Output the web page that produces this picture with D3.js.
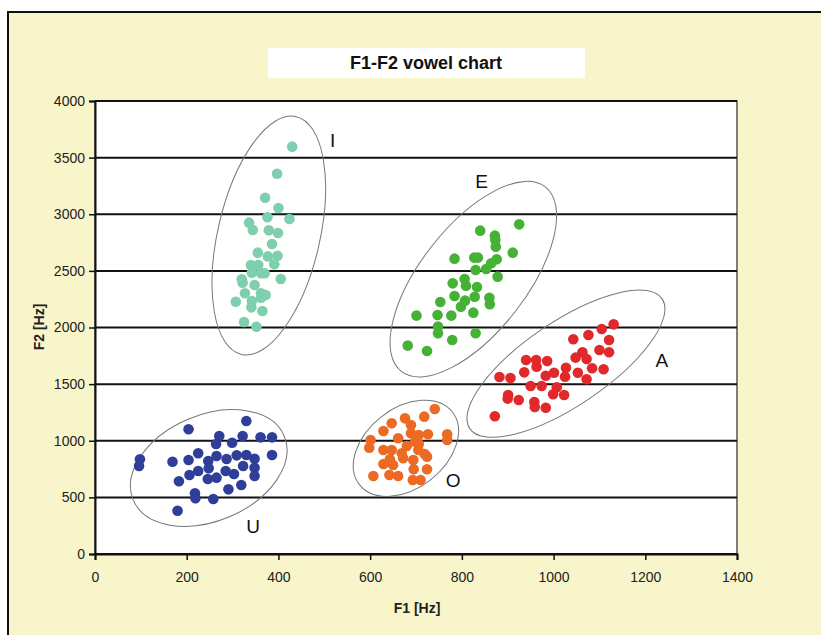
<!DOCTYPE html>
<html lang="en">
<head>
  <meta charset="UTF-8">
  <title>F1-F2 vowel chart</title>
  <style>
    body { margin: 0; background: #fff; }
    .tick text { font-family: "Liberation Sans Narrow", "Arial Narrow", "Liberation Sans", sans-serif; font-size: 14px; fill: #222; }
    .axis-title { font-family: "Liberation Sans", Arial, sans-serif; font-weight: bold; font-size: 14px; fill: #222; }
    .vowel-label { font-family: "Liberation Sans", Arial, sans-serif; font-size: 19px; fill: #111; }
  </style>
</head>
<body>
  <script src="https://d3js.org/d3.v7.min.js"></script>
  <script>
    // vowel clusters: [F1, F2] in Hz
    const vowels = ["I", "E", "A", "O", "U"];
    const pointsI = [[430,3597],[397,3358],[371,3146],[400,3055],[376,2973],[424,2958],[336,2926],[344,2861],[379,2858],[399,2834],[386,2737],[355,2661],[377,2628],[398,2634],[391,2558],[340,2552],[356,2552],[342,2484],[362,2479],[370,2479],[320,2426],[322,2396],[405,2428],[348,2375],[327,2302],[362,2302],[372,2287],[362,2263],[307,2228],[342,2234],[341,2178],[365,2146],[325,2049],[352,2007]];
    const pointsE = [[925,2911],[840,2855],[872,2811],[873,2773],[874,2714],[911,2661],[784,2608],[827,2617],[835,2617],[876,2602],[864,2567],[853,2517],[830,2508],[878,2449],[806,2428],[780,2390],[809,2369],[833,2358],[784,2278],[828,2272],[860,2263],[861,2205],[807,2237],[798,2184],[753,2225],[825,2131],[701,2105],[747,2111],[777,2105],[748,2008],[748,1949],[830,1949],[779,1890],[682,1840],[724,1793]];
    const pointsA = [[1131,2028],[1105,1987],[1076,1934],[1043,1896],[1121,1890],[1100,1801],[1121,1781],[1063,1781],[1048,1734],[1072,1722],[940,1713],[962,1713],[986,1704],[963,1654],[1027,1645],[1084,1640],[1109,1631],[936,1604],[1001,1601],[1053,1601],[1025,1566],[983,1574],[882,1563],[906,1554],[1072,1543],[950,1483],[974,1483],[1007,1472],[999,1410],[1023,1404],[901,1404],[900,1372],[924,1360],[958,1342],[959,1298],[983,1292],[872,1216]];
    const pointsO = [[741,1280],[718,1213],[676,1198],[647,1154],[689,1139],[629,1086],[689,1066],[706,1051],[726,1057],[661,1022],[768,1057],[768,1007],[601,1007],[598,939],[698,992],[706,971],[680,954],[629,918],[647,918],[705,918],[669,889],[719,883],[724,859],[643,836],[629,795],[672,845],[694,830],[650,786],[695,748],[724,748],[607,689],[642,698],[661,689],[693,653],[710,653]];
    const pointsU = [[330,1174],[204,1101],[271,1042],[322,1042],[361,1030],[386,1030],[264,971],[299,983],[225,889],[265,865],[309,871],[330,874],[386,874],[98,836],[96,777],[169,815],[204,830],[247,821],[287,839],[348,841],[248,757],[323,777],[348,762],[206,698],[225,733],[285,733],[303,706],[348,689],[246,662],[265,674],[183,642],[319,609],[291,571],[218,536],[219,492],[258,486],[180,382]];

    // cluster ellipse centres and label anchors (Hz)
    const ellipseF1 = [379, 825, 1027, 678, 248];
    const ellipseF2 = [2812, 2427, 1680, 933, 759];
    const labelF1 = [518, 843, 1236, 781, 345];
    const labelF2 = [3655, 3287, 1713, 647, 241];

    const xTicks = [0, 200, 400, 600, 800, 1000, 1200, 1400];
    const yTicks = [0, 500, 1000, 1500, 2000, 2500, 3000, 3500, 4000];

    // styling
    const colors = { I: "#7dcfae", E: "#45b236", A: "#e1282a", O: "#ec6a23", U: "#2f3e98" };
    // ellipse semi-axes (px) and rotation (deg)
    const ellipseShape = { I: [122, 51, -77], E: [117, 53, -52], A: [116, 42, -34], O: [59, 40, -38], U: [82, 53, -23] };

    const W = 821, H = 635;
    const margin = { left: 95, top: 101, right: 84, bottom: 81 };
    const pw = W - margin.left - margin.right;
    const ph = H - margin.top - margin.bottom;

    const svg = d3.select("body").append("svg")
      .attr("width", W)
      .attr("height", H);

    // outer chart area
    svg.append("rect")
      .attr("x", 8).attr("y", 12)
      .attr("width", W + 10).attr("height", H + 10)
      .attr("fill", "#f8f5cb")
      .attr("stroke", "#111")
      .attr("stroke-width", 2);

    // title box
    svg.append("rect")
      .attr("x", 268).attr("y", 48)
      .attr("width", 317).attr("height", 30)
      .attr("fill", "#fff");
    svg.append("text")
      .attr("x", 426).attr("y", 69)
      .attr("text-anchor", "middle")
      .attr("font-family", "'Liberation Sans Narrow', 'Arial Narrow', sans-serif")
      .attr("font-weight", "bold")
      .attr("font-size", 18)
      .attr("fill", "#111")
      .text("F1-F2 vowel chart");

    const x = d3.scaleLinear().domain([0, 1400]).range([0, pw]);
    const y = d3.scaleLinear().domain([0, 4000]).range([ph, 0]);

    const g = svg.append("g").attr("transform", `translate(${margin.left},${margin.top})`);

    g.append("rect")
      .attr("width", pw).attr("height", ph)
      .attr("fill", "#fff")
      .attr("stroke", "#555")
      .attr("stroke-width", 1.5);

    // gridlines
    g.append("g")
      .selectAll("line")
      .data(yTicks)
      .join("line")
      .attr("x1", 0).attr("x2", pw)
      .attr("y1", d => y(d)).attr("y2", d => y(d))
      .attr("stroke", "#111")
      .attr("stroke-width", 2);

    // ellipses
    g.append("g")
      .selectAll("ellipse")
      .data(vowels)
      .join("ellipse")
      .attr("rx", d => ellipseShape[d][0])
      .attr("ry", d => ellipseShape[d][1])
      .attr("transform", (d, i) => `translate(${x(ellipseF1[i])},${y(ellipseF2[i])}) rotate(${ellipseShape[d][2]})`)
      .attr("fill", "none")
      .attr("stroke", "#777")
      .attr("stroke-width", 1);

    // points
    const series = { I: pointsI, E: pointsE, A: pointsA, O: pointsO, U: pointsU };
    vowels.forEach(v => {
      g.append("g")
        .selectAll("circle")
        .data(series[v])
        .join("circle")
        .attr("cx", d => x(d[0]))
        .attr("cy", d => y(d[1]))
        .attr("r", 5.3)
        .attr("fill", colors[v]);
    });

    // vowel labels
    g.append("g")
      .selectAll("text")
      .data(vowels)
      .join("text")
      .attr("class", "vowel-label")
      .attr("x", (d, i) => x(labelF1[i]))
      .attr("y", (d, i) => y(labelF2[i]))
      .attr("text-anchor", "middle")
      .attr("dominant-baseline", "central")
      .text(d => d);

    // axes
    const yAxis = g.append("g")
      .call(d3.axisLeft(y).tickValues(yTicks).tickSize(6).tickPadding(4).tickFormat(d3.format("d")));
    const xAxis = g.append("g")
      .attr("transform", `translate(0,${ph})`)
      .call(d3.axisBottom(x).tickValues(xTicks).tickSize(6).tickPadding(12).tickFormat(d3.format("d")));
    [yAxis, xAxis].forEach(a => {
      a.select(".domain").attr("stroke", "#111").attr("stroke-width", 2);
      a.selectAll(".tick line").attr("stroke", "#111").attr("stroke-width", 1.5);
    });

    svg.append("text")
      .attr("class", "axis-title")
      .attr("x", 417).attr("y", 613)
      .attr("text-anchor", "middle")
      .attr("font-family", "'Liberation Sans Narrow', 'Arial Narrow', sans-serif")
      .attr("font-size", 17)
      .text("F1 [Hz]");

    svg.append("text")
      .attr("class", "axis-title")
      .attr("transform", "translate(44,327) rotate(-90)")
      .attr("text-anchor", "middle")
      .text("F2 [Hz]");
  </script>
</body>
</html>
